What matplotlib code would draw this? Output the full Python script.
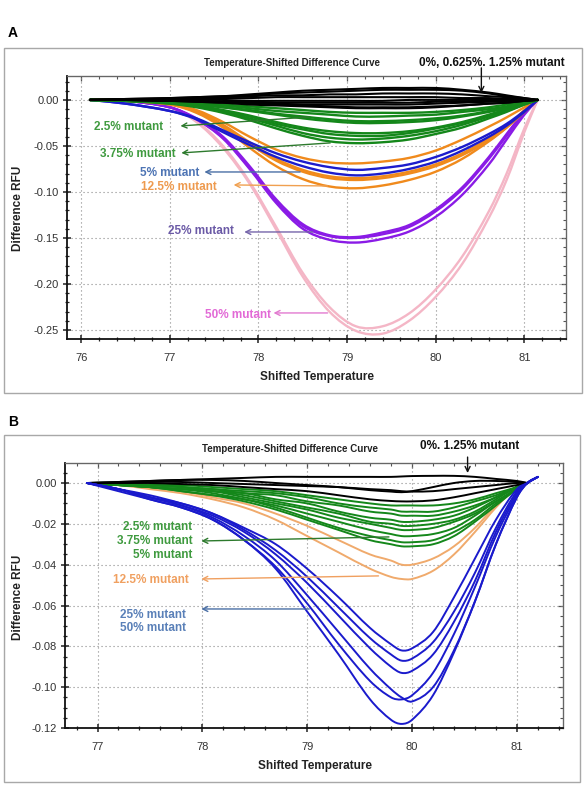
import matplotlib
matplotlib.use("Agg")
import matplotlib.pyplot as plt
import matplotlib.font_manager as fm
from matplotlib.patches import Rectangle, PathPatch
from matplotlib.path import Path
from matplotlib.ticker import MultipleLocator, FormatStrFormatter

plt.rcParams['font.family'] = ['Liberation Sans', 'DejaVu Sans']
plt.rcParams['axes.unicode_minus'] = False
_names = {f.name for f in fm.fontManager.ttflist}
NARROW = 'Liberation Sans Narrow' if 'Liberation Sans Narrow' in _names else 'Liberation Sans'

# ---------------- Panel A data ----------------
XA = [76.1, 76.5, 77.0, 77.3, 77.6, 77.9, 78.2, 78.5, 78.8, 79.1, 79.4, 79.7, 80.0, 80.3, 80.6, 80.8, 81.0, 81.15]

A_black = [  # 0%, 0.625%, 1.25% mutant
    [0, 0.001, 0.002, 0.003, 0.004, 0.006, 0.008, 0.010, 0.011, 0.012, 0.013, 0.013, 0.013, 0.011, 0.008, 0.005, 0.002, 0],
    [0, 0.001, 0.002, 0.003, 0.004, 0.005, 0.007, 0.008, 0.009, 0.010, 0.011, 0.011, 0.011, 0.010, 0.007, 0.004, 0.002, 0],
    [0, 0, 0.001, 0.002, 0.003, 0.004, 0.005, 0.005, 0.006, 0.006, 0.007, 0.007, 0.007, 0.006, 0.004, 0.003, 0.001, 0],
    [0, 0, 0.001, 0.001, 0.002, 0.002, 0.003, 0.003, 0.003, 0.003, 0.003, 0.003, 0.003, 0.002, 0.002, 0.001, 0.001, 0],
    [0, 0, 0, 0, 0, -0.001, -0.001, -0.001, -0.001, -0.001, -0.001, 0, 0, 0, 0, 0, 0, 0],
    [0, 0, -0.001, -0.001, -0.002, -0.002, -0.003, -0.003, -0.003, -0.003, -0.003, -0.003, -0.002, -0.002, -0.001, -0.001, 0, 0],
    [0, 0, -0.001, -0.001, -0.002, -0.003, -0.004, -0.005, -0.005, -0.005, -0.005, -0.005, -0.004, -0.003, -0.002, -0.001, -0.001, 0],
    [0, 0, -0.001, -0.002, -0.003, -0.004, -0.005, -0.006, -0.007, -0.008, -0.008, -0.008, -0.007, -0.006, -0.004, -0.003, -0.001, 0],
    [0, 0, -0.001, -0.002, -0.003, -0.005, -0.006, -0.007, -0.008, -0.009, -0.009, -0.009, -0.008, -0.006, -0.004, -0.003, -0.001, 0],
]
A_green = [  # 2.5%, 3.75% mutant
    [0, 0, -0.002, -0.003, -0.005, -0.007, -0.009, -0.011, -0.013, -0.014, -0.014, -0.014, -0.013, -0.011, -0.008, -0.005, -0.002, 0],
    [0, 0, -0.002, -0.004, -0.006, -0.009, -0.012, -0.014, -0.016, -0.018, -0.018, -0.017, -0.016, -0.013, -0.010, -0.007, -0.003, 0],
    [0, -0.001, -0.003, -0.005, -0.008, -0.011, -0.015, -0.018, -0.021, -0.023, -0.023, -0.022, -0.020, -0.017, -0.012, -0.008, -0.003, 0],
    [0, -0.001, -0.003, -0.005, -0.008, -0.012, -0.016, -0.020, -0.023, -0.025, -0.025, -0.024, -0.022, -0.018, -0.013, -0.009, -0.004, 0],
    [0, -0.001, -0.003, -0.006, -0.011, -0.017, -0.024, -0.030, -0.034, -0.036, -0.036, -0.034, -0.030, -0.024, -0.016, -0.010, -0.004, 0],
    [0, -0.001, -0.003, -0.007, -0.012, -0.018, -0.026, -0.032, -0.037, -0.039, -0.039, -0.036, -0.031, -0.025, -0.017, -0.011, -0.004, 0],
    [0, -0.001, -0.004, -0.007, -0.013, -0.020, -0.028, -0.036, -0.041, -0.043, -0.042, -0.039, -0.034, -0.027, -0.018, -0.012, -0.005, 0],
    [0, -0.001, -0.004, -0.008, -0.014, -0.022, -0.031, -0.039, -0.045, -0.047, -0.046, -0.043, -0.037, -0.030, -0.020, -0.013, -0.005, 0],
]
A_blue = [  # 5% mutant
    [0, -0.004, -0.012, -0.020, -0.033, -0.046, -0.058, -0.067, -0.073, -0.076, -0.074, -0.070, -0.062, -0.051, -0.037, -0.026, -0.012, 0],
    [0, -0.004, -0.012, -0.021, -0.035, -0.049, -0.062, -0.072, -0.079, -0.082, -0.080, -0.075, -0.067, -0.055, -0.040, -0.028, -0.013, 0],
]
A_orange = [  # 12.5% mutant
    [0, 0, -0.004, -0.011, -0.024, -0.040, -0.054, -0.063, -0.068, -0.069, -0.067, -0.063, -0.055, -0.043, -0.029, -0.019, -0.008, 0],
    [0, 0, -0.004, -0.012, -0.027, -0.046, -0.064, -0.076, -0.083, -0.085, -0.083, -0.078, -0.070, -0.058, -0.042, -0.029, -0.012, 0],
    [0, -0.001, -0.005, -0.013, -0.028, -0.048, -0.066, -0.078, -0.085, -0.087, -0.085, -0.080, -0.072, -0.060, -0.044, -0.030, -0.013, 0],
    [0, -0.001, -0.005, -0.014, -0.030, -0.052, -0.072, -0.086, -0.094, -0.096, -0.093, -0.087, -0.078, -0.064, -0.045, -0.030, -0.011, 0],
]
A_purple = [  # 25% mutant
    [0, -0.001, -0.008, -0.020, -0.040, -0.072, -0.108, -0.135, -0.147, -0.149, -0.144, -0.136, -0.119, -0.095, -0.062, -0.037, -0.013, 0],
    [0, -0.001, -0.008, -0.021, -0.041, -0.074, -0.110, -0.137, -0.148, -0.150, -0.146, -0.138, -0.121, -0.097, -0.064, -0.039, -0.014, 0],
    [0, -0.001, -0.008, -0.021, -0.042, -0.075, -0.112, -0.140, -0.152, -0.155, -0.151, -0.143, -0.127, -0.103, -0.070, -0.043, -0.016, 0],
]
A_pink = [  # 50% mutant
    [0, -0.001, -0.008, -0.024, -0.052, -0.091, -0.141, -0.192, -0.230, -0.251, -0.254, -0.240, -0.214, -0.178, -0.128, -0.087, -0.035, 0],
    [0, -0.001, -0.008, -0.023, -0.050, -0.089, -0.138, -0.188, -0.225, -0.246, -0.246, -0.232, -0.206, -0.170, -0.121, -0.080, -0.031, 0],
]

# ---------------- Panel B data ----------------
XB = [76.9, 77.2, 77.5, 77.8, 78.1, 78.4, 78.7, 79.0, 79.3, 79.6, 79.8, 79.9, 80.0, 80.2, 80.4, 80.6, 80.8, 81.0, 81.1]
XB_BLUE = [76.9, 77.2, 77.5, 77.8, 78.1, 78.4, 78.7, 79.0, 79.3, 79.6, 79.8, 79.9, 80.0, 80.2, 80.4, 80.6, 80.8, 81.0, 81.1, 81.2]

B_black = [  # 0%, 1.25% mutant
    [0, 0.0005, 0.001, 0.0015, 0.002, 0.0025, 0.003, 0.003, 0.003, 0.003, 0.003, 0.0032, 0.0034, 0.0035, 0.0035, 0.003, 0.002, 0.001, 0],
    [0, 0.0005, 0.001, 0.0015, 0.0015, 0.001, 0.0, -0.001, -0.002, -0.0035, -0.0042, -0.0045, -0.004, -0.002, 0.0, 0.001, 0.001, 0.0005, 0],
    [0, 0, 0.0005, 0.0005, 0, -0.0005, -0.001, -0.0015, -0.002, -0.003, -0.0035, -0.004, -0.0042, -0.004, -0.003, -0.002, -0.001, 0, 0],
    [0, 0, 0, -0.0005, -0.001, -0.002, -0.003, -0.004, -0.006, -0.008, -0.0088, -0.009, -0.009, -0.0085, -0.007, -0.005, -0.003, -0.001, 0],
]
B_green = [  # 2.5%, 3.75%, 5% mutant
    [0, 0, -0.001, -0.001, -0.002, -0.003, -0.004, -0.006, -0.008, -0.010, -0.011, -0.011, -0.011, -0.011, -0.010, -0.008, -0.005, -0.002, 0],
    [0, 0, -0.001, -0.002, -0.003, -0.004, -0.005, -0.007, -0.010, -0.012, -0.013, -0.014, -0.014, -0.014, -0.012, -0.009, -0.006, -0.002, 0],
    [0, -0.001, -0.001, -0.002, -0.003, -0.005, -0.006, -0.009, -0.011, -0.014, -0.015, -0.016, -0.016, -0.016, -0.014, -0.011, -0.007, -0.002, 0],
    [0, -0.001, -0.001, -0.002, -0.004, -0.005, -0.008, -0.010, -0.014, -0.017, -0.018, -0.019, -0.019, -0.018, -0.016, -0.012, -0.007, -0.002, 0],
    [0, -0.001, -0.002, -0.003, -0.004, -0.006, -0.009, -0.012, -0.015, -0.019, -0.020, -0.021, -0.021, -0.020, -0.018, -0.014, -0.008, -0.002, 0],
    [0, -0.001, -0.002, -0.003, -0.004, -0.007, -0.010, -0.013, -0.017, -0.020, -0.022, -0.023, -0.023, -0.022, -0.019, -0.015, -0.009, -0.003, 0],
    [0, -0.001, -0.002, -0.003, -0.005, -0.008, -0.011, -0.015, -0.019, -0.023, -0.025, -0.026, -0.026, -0.025, -0.022, -0.016, -0.009, -0.003, 0],
    [0, -0.001, -0.002, -0.004, -0.006, -0.008, -0.012, -0.017, -0.022, -0.026, -0.028, -0.029, -0.029, -0.028, -0.024, -0.018, -0.010, -0.003, 0],
    [0, -0.001, -0.002, -0.004, -0.006, -0.009, -0.013, -0.018, -0.023, -0.028, -0.030, -0.031, -0.031, -0.030, -0.026, -0.019, -0.011, -0.003, 0],
]
B_orange = [  # 12.5% mutant
    [0, -0.001, -0.002, -0.004, -0.007, -0.010, -0.015, -0.021, -0.028, -0.035, -0.038, -0.040, -0.040, -0.037, -0.031, -0.022, -0.011, -0.002, 0],
    [0, -0.001, -0.003, -0.005, -0.008, -0.012, -0.018, -0.026, -0.034, -0.042, -0.046, -0.047, -0.047, -0.043, -0.035, -0.024, -0.012, -0.002, 0],
]
B_blue = [  # 25%, 50% mutant
    [0, -0.004, -0.008, -0.012, -0.018, -0.028, -0.042, -0.063, -0.084, -0.106, -0.116, -0.118, -0.116, -0.104, -0.083, -0.058, -0.030, -0.007, 0.0, 0.003],
    [0, -0.003, -0.007, -0.011, -0.017, -0.026, -0.038, -0.055, -0.073, -0.091, -0.101, -0.105, -0.107, -0.100, -0.082, -0.058, -0.030, -0.007, 0.0, 0.003],
    [0, -0.003, -0.008, -0.012, -0.018, -0.028, -0.041, -0.059, -0.079, -0.097, -0.105, -0.106, -0.104, -0.093, -0.074, -0.051, -0.026, -0.006, 0.0, 0.003],
    [0, -0.003, -0.007, -0.011, -0.016, -0.024, -0.035, -0.049, -0.065, -0.081, -0.090, -0.093, -0.092, -0.084, -0.068, -0.048, -0.024, -0.005, 0.0, 0.003],
    [0, -0.003, -0.007, -0.010, -0.015, -0.023, -0.033, -0.046, -0.061, -0.076, -0.084, -0.087, -0.086, -0.078, -0.063, -0.044, -0.022, -0.004, 0.0, 0.003],
    [0, -0.003, -0.006, -0.010, -0.015, -0.022, -0.030, -0.042, -0.056, -0.071, -0.079, -0.082, -0.081, -0.073, -0.056, -0.037, -0.018, -0.003, 0.0, 0.003],
]

A_XTICKS = [76, 77, 78, 79, 80, 81]
A_YTICKS = [0.00, -0.05, -0.10, -0.15, -0.20, -0.25]
B_XTICKS = [77, 78, 79, 80, 81]
B_YTICKS = [0.00, -0.02, -0.04, -0.06, -0.08, -0.10, -0.12]

TITLE = "Temperature-Shifted Difference Curve"
XLABEL = "Shifted Temperature"
YLABEL = "Difference RFU"

# ---------------- figure ----------------
W, H = 586, 786
fig = plt.figure(figsize=(W / 100, H / 100), dpi=100)


def fx(px):
    return px / W


def fy(py):
    return 1 - py / H


def axes_px(left, top, right, bottom):
    return fig.add_axes([fx(left), fy(bottom), (right - left) / W, (bottom - top) / H])


def style(ax, xlim, ylim, xt, yt, xminor, yminor):
    ax.set_xlim(*xlim)
    ax.set_ylim(*ylim)
    ax.set_xticks(xt)
    ax.set_yticks(yt)
    ax.xaxis.set_minor_locator(MultipleLocator(xminor))
    ax.yaxis.set_minor_locator(MultipleLocator(yminor))
    ax.yaxis.set_major_formatter(FormatStrFormatter('%.2f'))
    ax.xaxis.set_major_formatter(FormatStrFormatter('%d'))
    ax.grid(True, which='major', color='#8a8a8a', linestyle=(0, (1, 2.6)), linewidth=0.8)
    ax.set_axisbelow(True)
    ax.tick_params(which='both', direction='inout', color='#222222', labelcolor='#333333', labelsize=8)
    ax.tick_params(which='major', length=6, width=1.1)
    ax.tick_params(axis='x', which='major', pad=7)
    ax.tick_params(axis='y', which='major', pad=3)
    ax.tick_params(which='minor', length=3.5, width=0.9)
    for s in ('left', 'bottom'):
        ax.spines[s].set_color('#111111')
        ax.spines[s].set_linewidth(1.3)
    for s in ('top', 'right'):
        ax.spines[s].set_color('#666666')
        ax.spines[s].set_linewidth(0.9)
    sx = ax.secondary_xaxis('top')
    sx.set_xticks(xt)
    sx.xaxis.set_minor_locator(MultipleLocator(xminor))
    sx.tick_params(which='both', direction='in', labeltop=False, color='#555555')
    sx.tick_params(which='major', length=3.5, width=0.9)
    sx.tick_params(which='minor', length=2.2, width=0.8)
    sx.spines['top'].set_color('#666666')
    sy = ax.secondary_yaxis('right')
    sy.set_yticks(yt)
    sy.yaxis.set_minor_locator(MultipleLocator(yminor))
    sy.tick_params(which='both', direction='in', labelright=False, color='#555555')
    sy.tick_params(which='major', length=3.5, width=0.9)
    sy.tick_params(which='minor', length=2.2, width=0.8)
    sy.spines['right'].set_color('#666666')


def smooth_path(x, y):
    """Smooth (Hermite/Bezier) line through the read data points."""
    n = len(x)
    m = []
    for i in range(n):
        a = max(i - 1, 0)
        b = min(i + 1, n - 1)
        m.append((y[b] - y[a]) / (x[b] - x[a]))
    verts = [(x[0], y[0])]
    codes = [Path.MOVETO]
    for i in range(n - 1):
        h = x[i + 1] - x[i]
        verts += [(x[i] + h / 3, y[i] + m[i] * h / 3),
                  (x[i + 1] - h / 3, y[i + 1] - m[i + 1] * h / 3),
                  (x[i + 1], y[i + 1])]
        codes += [Path.CURVE4] * 3
    return Path(verts, codes)


def draw(ax, x, curves, color, lw):
    for c in curves:
        ax.add_patch(PathPatch(smooth_path(x, c), fill=False, edgecolor=color, lw=lw,
                               capstyle='round', joinstyle='round'))


def label_arrow(ax, text_xy, tip, tail, text, tcolor, acolor, size=8.5):
    ax.text(text_xy[0], text_xy[1], text, ha='right', va='center', color=tcolor,
            fontsize=size, fontweight='bold')
    ax.annotate('', xy=tip, xytext=tail,
                arrowprops=dict(arrowstyle='->', color=acolor, lw=1.0, mutation_scale=9,
                                shrinkA=0, shrinkB=0))


# panel frames
fig.add_artist(Rectangle((fx(4), fy(393)), 578 / W, 345 / H, transform=fig.transFigure,
                         fill=False, ec='#a8a8a8', lw=1.0))
fig.add_artist(Rectangle((fx(4), fy(782)), 576 / W, 347 / H, transform=fig.transFigure,
                         fill=False, ec='#a8a8a8', lw=1.0))

# ================= Panel A =================
axA = axes_px(67, 76, 566, 339)
style(axA, (75.84, 81.47), (-0.2598, 0.026), A_XTICKS, A_YTICKS, 0.2, 0.01)
draw(axA, XA, A_pink, '#f4b6c6', 1.7)
draw(axA, XA, A_purple, '#8a1be6', 1.7)
draw(axA, XA, A_orange, '#f08a1c', 1.7)
draw(axA, XA, A_blue, '#1c1ccc', 1.7)
draw(axA, XA, A_green, '#14871a', 1.7)
draw(axA, XA, A_black, '#000000', 1.5)

label_arrow(axA, (76.93, -0.0293), (77.12, -0.0283), (78.58, -0.0185), '2.5% mutant', '#3f9a3f', '#2d7a2d')
label_arrow(axA, (77.07, -0.0587), (77.13, -0.0576), (78.81, -0.0467), '3.75% mutant', '#3f9a3f', '#2d7a2d')
label_arrow(axA, (77.33, -0.0794), (77.39, -0.0783), (78.47, -0.0783), '5% mutant', '#4d74b4', '#4a6fa5')
label_arrow(axA, (77.535, -0.0946), (77.72, -0.0924), (78.78, -0.0935), '12.5% mutant', '#ee9a4e', '#f0a050')
label_arrow(axA, (77.72, -0.1424), (77.84, -0.1435), (78.61, -0.1435), '25% mutant', '#6b5aa6', '#7565aa')
label_arrow(axA, (78.14, -0.2337), (78.17, -0.2315), (78.78, -0.2315), '50% mutant', '#e26ad6', '#e27ad0')

fig.text(fx(292), fy(63), TITLE, ha='center', va='center', fontsize=7, family=NARROW,
         fontweight='bold', color='#222222')
fig.text(fx(492), fy(63), '0%, 0.625%. 1.25% mutant', ha='center', va='center',
         fontsize=8.5, fontweight='bold', color='#111111')
axA.annotate('', xy=(80.515, 0.0076), xytext=(80.515, 0.0348), annotation_clip=False,
             arrowprops=dict(arrowstyle='->', color='#111111', lw=1.0, mutation_scale=9,
                             shrinkA=0, shrinkB=0))
fig.text(fx(18), fy(208), YLABEL, rotation=90, ha='center', va='center', fontsize=8.5,
         fontweight='bold', color='#222222')
fig.text(fx(317), fy(377), XLABEL, ha='center', va='center', fontsize=8.5,
         fontweight='bold', color='#222222')
fig.text(fx(8), fy(33), 'A', ha='left', va='center', fontsize=10, fontweight='bold')

# ================= Panel B =================
axB = axes_px(65, 463, 563, 728)
style(axB, (76.69, 81.44), (-0.12, 0.0098), B_XTICKS, B_YTICKS, 0.2, 0.005)
draw(axB, XB, B_orange, '#f0aa6c', 1.4)
draw(axB, XB, B_green, '#14871a', 1.4)
draw(axB, XB, B_black, '#000000', 1.4)
draw(axB, XB_BLUE, B_blue, '#1a1acc', 1.4)

label_arrow(axB, (77.906, -0.02155), (77.99, -0.0284), (79.78, -0.0264), '2.5% mutant', '#3f9a3f', '#2d7a2d')
axB.text(77.906, -0.0284, '3.75% mutant', ha='right', va='center', color='#3f9a3f', fontsize=8.5, fontweight='bold')
axB.text(77.906, -0.0353, '5% mutant', ha='right', va='center', color='#3f9a3f', fontsize=8.5, fontweight='bold')
label_arrow(axB, (77.87, -0.0475), (77.99, -0.0470), (79.68, -0.0455), '12.5% mutant', '#f0a060', '#f0a060')
label_arrow(axB, (77.84, -0.0646), (77.99, -0.0617), (79.02, -0.0617), '25% mutant', '#5a80b8', '#4a6fa5')
axB.text(77.84, -0.0710, '50% mutant', ha='right', va='center', color='#5a80b8', fontsize=8.5, fontweight='bold')

fig.text(fx(290), fy(449), TITLE, ha='center', va='center', fontsize=7, family=NARROW,
         fontweight='bold', color='#222222')
fig.text(fx(470), fy(446), '0%. 1.25% mutant', ha='center', va='center',
         fontsize=8.5, fontweight='bold', color='#111111')
axB.annotate('', xy=(80.53, 0.0049), xytext=(80.53, 0.0127), annotation_clip=False,
             arrowprops=dict(arrowstyle='->', color='#111111', lw=1.0, mutation_scale=9,
                             shrinkA=0, shrinkB=0))
fig.text(fx(18), fy(597), YLABEL, rotation=90, ha='center', va='center', fontsize=8.5,
         fontweight='bold', color='#222222')
fig.text(fx(315), fy(766), XLABEL, ha='center', va='center', fontsize=8.5,
         fontweight='bold', color='#222222')
fig.text(fx(8), fy(422), 'B', ha='left', va='center', fontsize=10, fontweight='bold')

fig.savefig('out.png', dpi=100)
